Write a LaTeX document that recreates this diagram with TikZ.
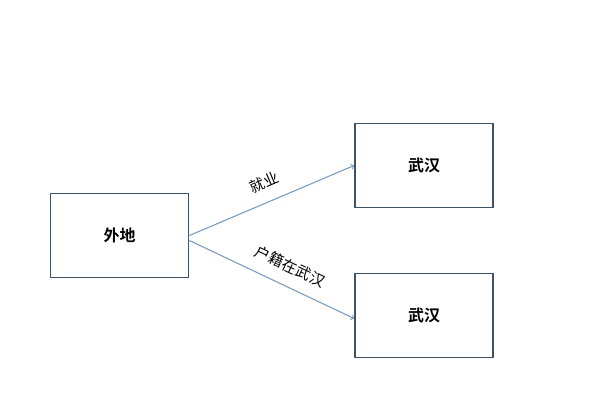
\documentclass[tikz,border=0pt]{standalone}
\usepackage{fontspec}
\newfontfamily\cjk{Noto Sans CJK SC}[BoldFont={Noto Sans CJK SC Bold}]
\usepackage{tikz}
\definecolor{boxline}{HTML}{3F5368}
\definecolor{arrowline}{HTML}{7C9DBF}

\begin{document}
\begin{tikzpicture}[x=1pt,y=-1pt,
  place/.style={draw=boxline,line width=1.8pt,minimum width=138pt,minimum height=84pt,
    font=\cjk\bfseries\fontsize{16}{18}\selectfont},
  flow/.style={draw=arrowline,line width=1.1pt,->,>=to},
  tag/.style={font=\cjk\fontsize{15}{17}\selectfont,sloped,above=9pt}]
  \useasboundingbox (0,0) rectangle (600,400);

  %boxes
  \node[place] (waidi) at (119.5,235.5) {外地};
  \node[place] (wuhanA) at (424,165.5) {武汉};
  \node[place] (wuhanB) at (424,315.5) {武汉};

  %arrows
  \draw[flow] (waidi.east) -- (wuhanA.west) node[tag,pos=0.5] {就业};
  \draw[flow] ([yshift=-5pt]waidi.east) -- ([yshift=-3pt]wuhanB.west) node[tag,pos=0.56] {户籍在武汉};
\end{tikzpicture}
\end{document}
